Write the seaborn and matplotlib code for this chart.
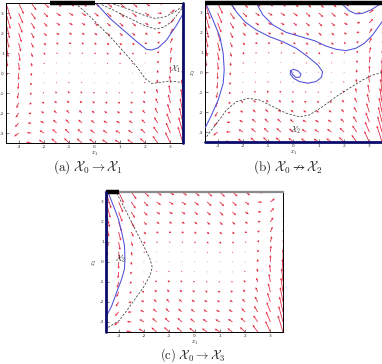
import numpy as np
import matplotlib
matplotlib.use("Agg")
import matplotlib.pyplot as plt
import seaborn as sns

# ---- vector field (same dynamics in all three panels) ----
x1_grid = [-3.5, -3.0, -2.5, -2.0, -1.5, -1.0, -0.5, 0.0, 0.5, 1.0, 1.5, 2.0, 2.5, 3.0, 3.5]
x2_grid = [-3.5, -3.0, -2.5, -2.0, -1.5, -1.0, -0.5, 0.0, 0.5, 1.0, 1.5, 2.0, 2.5, 3.0, 3.5]
u_by_row = [-3.5, -3.0, -2.5, -2.0, -1.5, -1.0, -0.5, 0.0, 0.5, 1.0, 1.5, 2.0, 2.5, 3.0, 3.5]
v_by_col = [-10.8, -6.0, -2.7, -0.67, 0.38, 0.67, 0.46, 0.0, -0.46, -0.67, -0.38, 0.67, 2.7, 6.0, 10.8]
v_by_row = [3.5, 3.0, 2.5, 2.0, 1.5, 1.0, 0.5, 0.0, -0.5, -1.0, -1.5, -2.0, -2.5, -3.0, -3.5]

# ---- panel (a) ----
a_x0_bar = [-1.75, 0.0]
a_traj_x = [0.09, 0.61, 1.14, 1.67, 2.06, 2.26, 2.52, 2.85, 3.25, 3.51]
a_traj_y = [3.45, 2.73, 2.15, 1.57, 1.18, 1.15, 1.26, 1.65, 2.40, 2.98]
a_dash1_x = [-0.77, -0.31, 0.22, 0.74, 1.27, 1.67, 2.00, 2.26, 2.59, 2.98, 3.51]
a_dash1_y = [3.50, 2.99, 2.32, 1.65, 0.90, 0.32, -0.27, -0.52, -0.47, -0.40, -0.48]
a_dash2_x = [0.15, 0.74, 1.40, 1.93, 2.39, 2.72, 3.05, 3.49]
a_dash2_y = [3.50, 3.15, 2.73, 2.40, 2.20, 2.28, 2.56, 3.28]
a_dash3_x = [0.61, 1.27, 1.93, 2.39, 2.79, 3.18, 3.49]
a_dash3_y = [3.50, 3.23, 2.90, 2.73, 2.81, 3.06, 3.35]
a_label_pos = [3.0, 0.05]

# ---- panel (b) ----
b_x0_bar = [-3.5, 3.5]
b_left_x = [-3.44, -3.18, -2.91, -2.78, -2.74, -2.78, -2.98, -3.24, -3.50]
b_left_y = [3.40, 2.64, 1.80, 0.97, 0.13, -0.55, -1.39, -2.14, -2.81]
b_spiral_x = [-2.49, -2.26, -1.93, -1.47, -0.94, -0.42, 0.11, 0.56, 0.96, 1.15, 1.11, 0.89, 0.56,
              0.24, 0.00, -0.13, -0.12, 0.00, 0.17, 0.30, 0.24, 0.08, -0.05, -0.08]
b_spiral_y = [3.50, 3.06, 2.56, 2.14, 1.80, 1.55, 1.22, 0.80, 0.38, 0.04, -0.24, -0.46, -0.54,
              -0.46, -0.29, -0.08, 0.09, 0.16, 0.09, -0.08, -0.24, -0.24, -0.08, 0.06]
b_mid_x = [-1.47, -1.21, -0.81, -0.29, 0.30, 0.83, 1.29, 1.68, 2.07, 2.47, 2.80, 3.13, 3.50]
b_mid_y = [3.50, 2.90, 2.39, 2.02, 1.80, 1.60, 1.33, 1.17, 1.10, 1.22, 1.47, 1.89, 2.55]
b_top_x = [1.88, 2.20, 2.47, 2.73, 3.06, 3.50]
b_top_y = [3.50, 3.11, 2.95, 2.98, 3.15, 3.50]
b_dash_x = [-3.44, -3.04, -2.65, -2.26, -1.80, -1.34, -0.81, -0.29, 0.24, 0.63, 1.15, 1.68, 2.20, 2.73, 3.12, 3.50]
b_dash_y = [-3.23, -2.56, -1.89, -1.47, -1.30, -1.38, -1.72, -2.05, -2.23, -2.14, -1.72, -1.22, -0.80, -0.38, -0.13, 0.00]
b_label_pos = [-0.12, -3.05]

# ---- panel (c) ----
c_x0_bar = [-3.5, -3.0]
c_traj_x = [-3.41, -3.21, -3.01, -2.88, -2.77, -2.75, -2.77, -2.88, -3.08, -3.27, -3.50]
c_traj_y = [3.45, 2.82, 2.15, 1.49, 0.82, 0.15, -0.35, -0.85, -1.52, -2.18, -2.75]
c_dash_x = [-3.08, -2.82, -2.55, -2.29, -2.02, -1.76, -1.67, -1.76, -2.02, -2.35, -2.68, -2.98, -3.41]
c_dash_y = [3.45, 2.82, 2.15, 1.49, 0.82, 0.15, -0.27, -0.68, -1.27, -1.85, -2.43, -2.93, -3.27]
c_label_pos = [-3.15, 0.0]

ticks = [-3, -2, -1, 0, 1, 2, 3]

sns.set_theme(style="white")
plt.rcParams["font.family"] = ["DejaVu Sans"]
plt.rcParams["mathtext.fontset"] = "cm"

fig = plt.figure(figsize=(3.82, 3.64), dpi=100)
ax_a = fig.add_axes([0.0157, 0.6071, 0.4634, 0.3846])
ax_b = fig.add_axes([0.5366, 0.6099, 0.4634, 0.3819])
ax_c = fig.add_axes([0.2775, 0.0880, 0.4634, 0.3846])

X, Y = np.meshgrid(np.array(x1_grid), np.array(x2_grid))
U = np.repeat(np.array(u_by_row)[:, None], len(x1_grid), axis=1)
V = np.array(v_by_col)[None, :] + np.array(v_by_row)[:, None]
mag_max = np.sqrt(U ** 2 + V ** 2).max()

blue = "#5050d8"
navy = "#0b0b6b"
dash_col = "#3a3a3a"

def base(ax):
    ax.quiver(X, Y, U, V, color="#e0102a", angles="xy", scale_units="xy",
              scale=mag_max / 0.85, width=0.0045, headwidth=3.0, headlength=3.0,
              headaxislength=2.7, alpha=0.9, zorder=1)
    ax.set_xlim(-3.5, 3.5)
    ax.set_ylim(-3.5, 3.5)
    ax.set_xticks(ticks)
    ax.set_yticks(ticks)
    ax.set_xticklabels([str(t) for t in ticks])
    ax.set_yticklabels([str(t) for t in ticks])
    ax.tick_params(direction="in", length=2, width=0.4, labelsize=3.2,
                   labelcolor="#333333", pad=1.5, bottom=True, left=True)
    for s in ax.spines.values():
        s.set_color("black")
        s.set_linewidth(0.7)
    ax.set_xlabel(r"$x_1$", fontsize=4.5, labelpad=0.3)
    ax.set_ylabel(r"$x_2$", fontsize=4.5, labelpad=0.5)

def line(ax, xs, ys, color, ls="-", lw=0.75):
    sns.lineplot(x=xs, y=ys, sort=False, estimator=None, ax=ax, color=color,
                 linestyle=ls, linewidth=lw, zorder=3)

for ax in (ax_a, ax_b, ax_c):
    base(ax)

# panel (a)
line(ax_a, a_traj_x, a_traj_y, blue)
line(ax_a, a_dash1_x, a_dash1_y, dash_col, (0, (3, 2)), 0.55)
line(ax_a, a_dash2_x, a_dash2_y, dash_col, (0, (3, 2)), 0.55)
line(ax_a, a_dash3_x, a_dash3_y, dash_col, (0, (3, 2)), 0.55)
ax_a.plot(a_x0_bar, [3.5, 3.5], color="black", lw=3.2, solid_capstyle="butt", clip_on=False, zorder=5)
ax_a.plot([3.5, 3.5], [-3.5, 3.5], color=navy, lw=2.0, clip_on=False, zorder=5)
ax_a.text(a_label_pos[0], a_label_pos[1], r"$\mathcal{X}_1$", fontsize=6, color="#333333", zorder=6)
ax_a.set_ylabel("")

# panel (b)
line(ax_b, b_left_x, b_left_y, blue)
line(ax_b, b_spiral_x, b_spiral_y, blue)
line(ax_b, b_mid_x, b_mid_y, blue)
line(ax_b, b_top_x, b_top_y, blue)
line(ax_b, b_dash_x, b_dash_y, dash_col, (0, (3, 2)), 0.55)
ax_b.plot(b_x0_bar, [3.5, 3.5], color="black", lw=3.2, solid_capstyle="butt", clip_on=False, zorder=5)
ax_b.plot([-3.5, 3.5], [-3.5, -3.5], color=navy, lw=2.0, clip_on=False, zorder=5)
ax_b.text(b_label_pos[0], b_label_pos[1], r"$\mathcal{X}_2$", fontsize=6, color="#333333", zorder=6)

# panel (c)
line(ax_c, c_traj_x, c_traj_y, blue)
line(ax_c, c_dash_x, c_dash_y, dash_col, (0, (3, 2)), 0.55)
ax_c.spines["top"].set_color("#8a8a8a")
ax_c.spines["top"].set_linewidth(1.6)
ax_c.plot(c_x0_bar, [3.5, 3.5], color="black", lw=3.2, solid_capstyle="butt", clip_on=False, zorder=5)
ax_c.plot([-3.5, -3.5], [-3.5, 3.5], color=navy, lw=2.0, clip_on=False, zorder=5)
ax_c.text(c_label_pos[0], c_label_pos[1], r"$\mathcal{X}_3$", fontsize=6, color="#333333", zorder=6)

# captions
fig.text(88 / 382, 1 - 167 / 364, r"$\mathrm{(a)}\ \mathcal{X}_0 \rightarrow \mathcal{X}_1$",
         fontsize=9.5, ha="center", va="center")
fig.text(288 / 382, 1 - 167 / 364, r"$\mathrm{(b)}\ \mathcal{X}_0 \nrightarrow \mathcal{X}_2$",
         fontsize=9.5, ha="center", va="center")
fig.text(193 / 382, 1 - 355 / 364, r"$\mathrm{(c)}\ \mathcal{X}_0 \rightarrow \mathcal{X}_3$",
         fontsize=9, ha="center", va="center")

fig.savefig("out.png", dpi=100)
